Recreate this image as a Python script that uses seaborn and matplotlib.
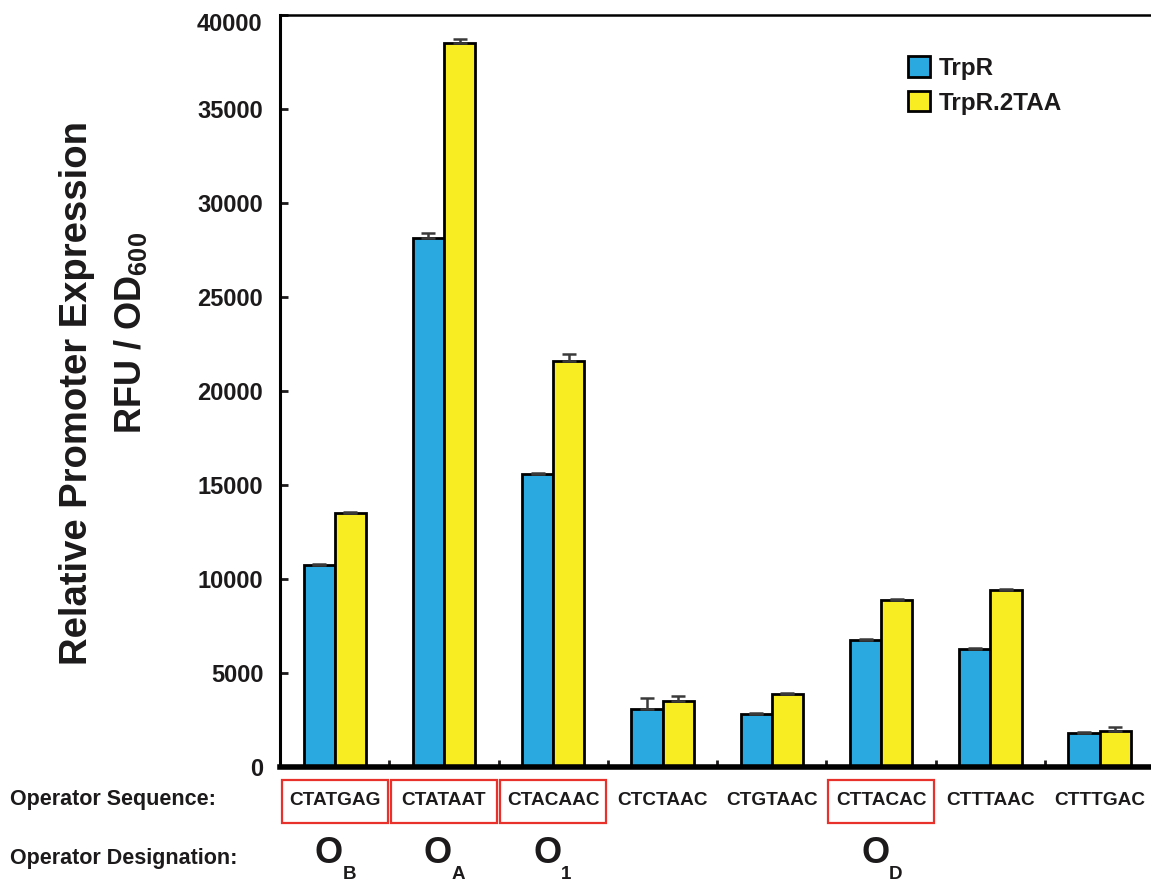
import numpy as np
import pandas as pd
import seaborn as sns
import matplotlib.pyplot as plt
from matplotlib.patches import Rectangle
import matplotlib.transforms as mtransforms

# data
sequences = ["CTATGAG", "CTATAAT", "CTACAAC", "CTCTAAC",
             "CTGTAAC", "CTTACAC", "CTTTAAC", "CTTTGAC"]
trpr = [10770, 28150, 15600, 3090, 2830, 6770, 6290, 1810]
trpr_2taa = [13520, 38500, 21590, 3520, 3890, 8900, 9430, 1920]
trpr_err = [40, 230, 50, 590, 40, 40, 40, 40]
trpr_2taa_err = [40, 200, 400, 230, 40, 40, 40, 200]
boxed = [0, 1, 2, 5]
designations = {0: "B", 1: "A", 2: "1", 5: "D"}
series = ["TrpR", "TrpR.2TAA"]
colors = ["#29A9E0", "#F8EC22"]
ink = "#1c1a1b"

df = pd.DataFrame({
    "seq": sequences * 2,
    "value": trpr + trpr_2taa,
    "construct": [series[0]] * len(sequences) + [series[1]] * len(sequences),
})

sns.set_style("ticks")
plt.rcParams["font.family"] = ["Liberation Sans", "DejaVu Sans"]
plt.rcParams["mathtext.fontset"] = "custom"
plt.rcParams["mathtext.rm"] = "Liberation Sans"
plt.rcParams["mathtext.bf"] = "Liberation Sans:bold"
plt.rcParams["text.color"] = ink
plt.rcParams["xtick.color"] = ink
plt.rcParams["ytick.color"] = ink

fig = plt.figure(figsize=(11.51, 8.82), dpi=100)
ax = fig.add_axes([0.2433, 0.1304, 0.7567, 0.8526])

bar_w = 0.57
sns.barplot(data=df, x="seq", y="value", hue="construct", palette=colors,
            width=bar_w, edgecolor="black", linewidth=2, errorbar=None,
            saturation=1, ax=ax)

# upper error bars only
x = np.arange(len(sequences))
for vals, errs, off in [(trpr, trpr_err, -bar_w / 4), (trpr_2taa, trpr_2taa_err, bar_w / 4)]:
    ax.errorbar(x + off, vals, yerr=[np.zeros(len(vals)), errs], fmt="none",
                ecolor="#3a3a3a", elinewidth=1.8, capsize=5, capthick=1.8, zorder=1)

ax.set_xlim(-0.5, 7.47)
ax.set_ylim(0, 40000)
yticks = list(range(0, 40001, 5000))
ax.set_yticks(yticks)
# top label sits a little lower in the original, so it is drawn by hand
ax.set_yticklabels([str(v) for v in yticks[:-1]] + [""], fontsize=17, fontweight="bold")
ytrans = mtransforms.blended_transform_factory(ax.transAxes, ax.transData)
ax.annotate(str(yticks[-1]), xy=(0, yticks[-1]), xycoords=ytrans, xytext=(-18, -10),
            textcoords="offset pixels", ha="right", va="center",
            fontsize=17, fontweight="bold", annotation_clip=False)
ax.set_xticks([])
ax.set_xticks(np.arange(0.5, 7.5, 1), minor=True)
ax.tick_params(axis="x", which="minor", direction="in", length=5, width=2)
ax.tick_params(axis="y", direction="in", length=6, width=2, pad=12)
ax.set_xlabel("")
ax.set_ylabel("")

for side in ["left", "top", "bottom"]:
    ax.spines[side].set_color("black")
ax.spines["left"].set_linewidth(2.2)
ax.spines["top"].set_linewidth(1.8)
ax.spines["bottom"].set_linewidth(4)
ax.spines["right"].set_visible(False)

# axis titles
fig.text(0.067, 0.554, "Relative Promoter Expression", rotation=90,
         fontsize=27.5, fontweight="bold", ha="center", va="center")
fig.text(0.113, 0.623, r"RFU / OD$_{\mathbf{600}}$", rotation=90,
         fontsize=26, fontweight="bold", ha="center", va="center")

# sequence row and designation row under the axis
trans = mtransforms.blended_transform_factory(ax.transData, ax.transAxes)
for i, s in enumerate(sequences):
    ax.text(i, -0.044, s, transform=trans, ha="center", va="center",
            fontsize=13.7, fontweight="bold", clip_on=False)
    if i in boxed:
        ax.add_patch(Rectangle((i - 0.485, -0.0745), 0.97, 0.057, transform=trans,
                               fill=False, edgecolor="#E8312A", linewidth=1.6,
                               clip_on=False))
for i, sub in designations.items():
    ax.annotate("O", xy=(i, -0.115), xycoords=trans, xytext=(-6, 0),
                textcoords="offset pixels", ha="center", va="center",
                fontsize=26, fontweight="bold", annotation_clip=False)
    ax.annotate(sub, xy=(i, -0.143), xycoords=trans, xytext=(8, 0),
                textcoords="offset pixels", ha="left", va="center",
                fontsize=13.5, fontweight="bold", annotation_clip=False)

fig.text(0.009, 0.093, "Operator Sequence:", fontsize=15.5, fontweight="bold",
         ha="left", va="center")
fig.text(0.009, 0.027, "Operator Designation:", fontsize=15.5, fontweight="bold",
         ha="left", va="center")

leg = ax.legend(loc="upper left", bbox_to_anchor=(0.696, 0.974), frameon=False,
                prop={"weight": "bold", "size": 17.5},
                handlelength=0.92, handleheight=0.92, handletextpad=0.35,
                labelspacing=0.45)
for h in leg.get_patches():
    h.set_linewidth(2)

fig.savefig("out.png", dpi=100)
